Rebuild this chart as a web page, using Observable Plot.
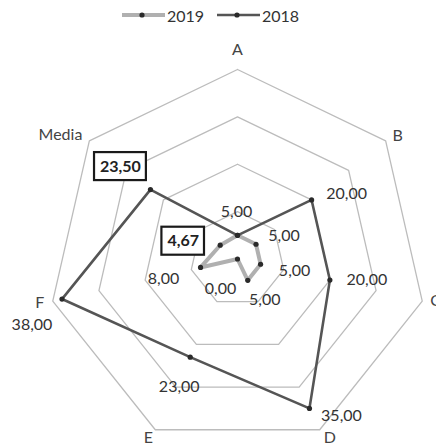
<!DOCTYPE html>
<html><head><meta charset="utf-8">
<script src="https://cdn.jsdelivr.net/npm/d3@7"></script>
<script src="https://cdn.jsdelivr.net/npm/@observablehq/plot@0.6"></script>
<style>
html,body{margin:0;padding:0;background:#fff;}
#wrap{width:436px;height:445px;overflow:hidden;font-family:Lato,"Open Sans",sans-serif;position:relative;}
#legend{height:30px;position:relative;}
.item{position:absolute;top:0;height:30px;display:flex;align-items:center;font-size:16px;color:#333;}
.item svg{margin-right:2px;}
</style></head><body><div id="wrap"><div id="legend"></div><div id="chart"></div></div>
<script>
// ---- data ----
const categories = ["A", "B", "C", "D", "E", "F", "Media"];
const seriesNames = ["2019", "2018"];
const values2019 = [5, 5, 5, 5, 0, 8, 4.67];
const values2018 = [5, 20, 20, 35, 23, 38, 23.5];
const ringTicks = [10, 20, 30, 40];
const axisMax = 40;

// ---- layout / style ----
const W = 436, H = 415;
const CX = 237, CY = 228.5, RPX = 189.5;
const FONT = "Lato, 'Open Sans', sans-serif";
const colors = {"2019": "#b0b0b0", "2018": "#555555"};
const widths = {"2019": 4, "2018": 2.6};
const labelOffsets = {
  "2019": [null, [28, -8], [34, 7], [17, 20], [-17, 30], [-37, 11], [-37, -4]],
  "2018": [[-1, -23], [35, -6], [37, 0], [32, 7], [-11, 30], [-30, 26], [-30, -23]]
};
const axisLabelOffsets = [[0, -20, "middle"], [12, -5, "middle"], [8, 0, "start"], [10, 8, "middle"], [-7, 8, "middle"], [-13, 2, "middle"], [-7, -6, "end"]];

const fmt = d3.formatLocale({decimal: ",", thousands: ".", grouping: [3], currency: ["", ""]}).format(".2f");
const n = categories.length;
const ang = i => i * 2 * Math.PI / n;
const px = (v, i) => v * Math.sin(ang(i));
const py = (v, i) => v * Math.cos(ang(i));

const k = RPX / axisMax;
const xDomain = [-CX / k, (W - CX) / k];
const yDomain = [-(H - CY) / k, CY / k];

const ctx = document.createElement("canvas").getContext("2d");
ctx.font = "bold 16px " + FONT;
const textW = s => ctx.measureText(s).width;

const rings = ringTicks.flatMap(t => d3.range(n + 1).map(j => ({ring: t, x: px(t, j % n), y: py(t, j % n)})));
const seriesValues = {"2019": values2019, "2018": values2018};
const pts = seriesNames.flatMap(s => seriesValues[s].map((v, i) => ({series: s, cat: categories[i], i, v, x: px(v, i), y: py(v, i)})));
const closed = seriesNames.flatMap(s => d3.range(n + 1).map(j => { const i = j % n, v = seriesValues[s][i]; return {series: s, x: px(v, i), y: py(v, i)}; }));

const marks = [
  Plot.line(rings, {x: "x", y: "y", z: "ring", stroke: "#bcbcbc", strokeWidth: 1.3})
];
for (const s of seriesNames) {
  marks.push(Plot.line(closed.filter(d => d.series === s), {x: "x", y: "y", stroke: colors[s], strokeWidth: widths[s], strokeLinejoin: "round"}));
}
for (const s of seriesNames) {
  marks.push(Plot.dot(pts.filter(d => d.series === s), {x: "x", y: "y", r: 2.6, fill: "#2a2a2a", stroke: "none"}));
}
// axis labels
categories.forEach((c, i) => {
  const [dx, dy, anchor] = axisLabelOffsets[i];
  marks.push(Plot.text([{c, x: px(axisMax, i), y: py(axisMax, i)}], {x: "x", y: "y", text: "c", dx, dy, textAnchor: anchor, fontSize: 16, fill: "#444"}));
});
// data labels (Media labels boxed, bold)
for (const s of seriesNames) {
  pts.filter(d => d.series === s).forEach(d => {
    const off = labelOffsets[s][d.i];
    if (!off) return;
    const boxed = d.cat === "Media";
    if (boxed) {
      const hw = (textW(fmt(d.v)) + 11) / 2 / k, hh = 14 / k;
      marks.push(Plot.rect([d], {x1: dd => dd.x - hw, x2: dd => dd.x + hw, y1: dd => dd.y - hh, y2: dd => dd.y + hh, dx: off[0], dy: off[1], fill: "#fff", stroke: "#1a1a1a", strokeWidth: 2.2}));
    }
    marks.push(Plot.text([d], {x: "x", y: "y", text: dd => fmt(dd.v), dx: off[0], dy: off[1], fontSize: 16, fontWeight: boxed ? "bold" : "normal", fill: boxed ? "#222" : "#333"}));
  });
}

const chart = Plot.plot({
  width: W, height: H, margin: 0,
  x: {domain: xDomain, axis: null},
  y: {domain: yDomain, axis: null},
  style: {fontFamily: FONT, background: "#fff", overflow: "hidden"},
  marks
});
document.getElementById("chart").appendChild(chart);

// legend
const legend = document.getElementById("legend");
const legendLeft = [122, 217];
seriesNames.forEach((s, j) => {
  const div = document.createElement("div");
  div.className = "item";
  div.style.left = legendLeft[j] + "px";
  div.innerHTML = `<svg width="43" height="10"><line x1="0" x2="43" y1="5" y2="5" stroke="${colors[s]}" stroke-width="${widths[s]}"/><circle cx="20" cy="5" r="2.6" fill="#2a2a2a"/></svg><span>${s}</span>`;
  legend.appendChild(div);
});
</script></body></html>
